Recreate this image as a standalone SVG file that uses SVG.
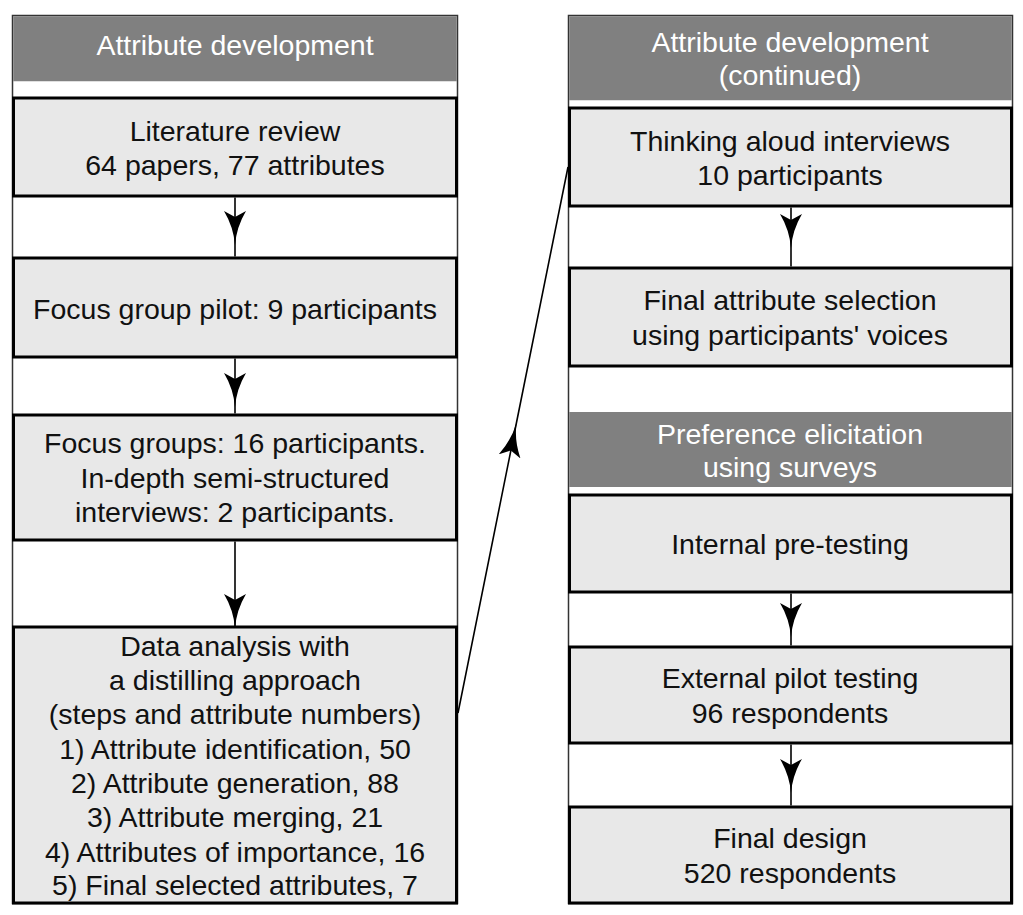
<svg xmlns="http://www.w3.org/2000/svg" width="1023" height="915" viewBox="0 0 1023 915">
<style>
.container{fill:#ffffff;stroke:#333333;stroke-width:1.5}
.header{fill:#808080;stroke:none}
.box{fill:#e8e8e8;stroke:#000000;stroke-width:3}
.t{font-family:"Liberation Sans",Arial,sans-serif;font-size:28.5px;fill:#111111;text-anchor:middle}
.ht{font-family:"Liberation Sans",Arial,sans-serif;font-size:28.5px;fill:#ffffff;text-anchor:middle}
.conn{fill:none;stroke:#000000;stroke-width:1.6}
</style>
<defs>
<marker id="ah" viewBox="0 0 34 22" markerWidth="34" markerHeight="22" refX="34" refY="11" orient="auto" markerUnits="userSpaceOnUse">
<path d="M34,11 Q16,9.5 0,0 L6,11 L0,22 Q16,12.5 34,11 Z" fill="#000000"/>
</marker>
</defs>

<g id="left-column">
<rect class="container" x="12.5" y="15.5" width="445" height="888"/>
<rect class="header" x="13.25" y="16.25" width="443.5" height="65"/>
</g>
<g id="right-column">
<rect class="container" x="568.5" y="15.5" width="444" height="888"/>
<rect class="header" x="569.25" y="16.25" width="442.5" height="84"/>
</g>

<g id="header-left">
<text class="ht" x="235" y="55">Attribute development</text>
</g>
<g id="header-right">
<text class="ht" x="790" y="52">Attribute development</text>
<text class="ht" x="790" y="85">(continued)</text>
</g>

<g id="literature-review">
<rect class="box" x="13.5" y="98" width="443" height="98"/>
<text class="t" x="235" y="141">Literature review</text>
<text class="t" x="235" y="175">64 papers, 77 attributes</text>
</g>
<g id="focus-group-pilot">
<rect class="box" x="13.5" y="258" width="443" height="99"/>
<text class="t" x="235" y="319">Focus group pilot: 9 participants</text>
</g>
<g id="focus-groups">
<rect class="box" x="13.5" y="415" width="443" height="125"/>
<text class="t" x="235" y="453">Focus groups: 16 participants.</text>
<text class="t" x="235" y="488">In-depth semi-structured</text>
<text class="t" x="235" y="522">interviews: 2 participants.</text>
</g>
<g id="data-analysis">
<rect class="box" x="13.5" y="627" width="443" height="276"/>
<text class="t" x="235" y="656">Data analysis with</text>
<text class="t" x="235" y="690">a distilling approach</text>
<text class="t" x="235" y="724">(steps and attribute numbers)</text>
<text class="t" x="235" y="759">1) Attribute identification, 50</text>
<text class="t" x="235" y="793">2) Attribute generation, 88</text>
<text class="t" x="235" y="827">3) Attribute merging, 21</text>
<text class="t" x="235" y="862">4) Attributes of importance, 16</text>
<text class="t" x="235" y="895">5) Final selected attributes, 7</text>
</g>

<g id="thinking-aloud">
<rect class="box" x="569.5" y="108" width="442" height="98"/>
<text class="t" x="790" y="151">Thinking aloud interviews</text>
<text class="t" x="790" y="185">10 participants</text>
</g>
<g id="final-attribute-selection">
<rect class="box" x="569.5" y="268" width="442" height="98"/>
<text class="t" x="790" y="310">Final attribute selection</text>
<text class="t" x="790" y="345">using participants' voices</text>
</g>
<g id="preference-header">
<rect class="header" x="569.25" y="412" width="442.5" height="75"/>
<text class="ht" x="790" y="444">Preference elicitation</text>
<text class="ht" x="790" y="477">using surveys</text>
</g>
<g id="internal-pretesting">
<rect class="box" x="569.5" y="495" width="442" height="97"/>
<text class="t" x="790" y="554">Internal pre-testing</text>
</g>
<g id="external-pilot">
<rect class="box" x="569.5" y="647" width="442" height="96"/>
<text class="t" x="790" y="688">External pilot testing</text>
<text class="t" x="790" y="723">96 respondents</text>
</g>
<g id="final-design">
<rect class="box" x="569.5" y="807" width="442" height="96"/>
<text class="t" x="790" y="848">Final design</text>
<text class="t" x="790" y="883">520 respondents</text>
</g>

<g id="connectors">
<path class="conn" d="M235,197.5 L235,245 L235,256.5" marker-mid="url(#ah)"/>
<path class="conn" d="M235,358.5 L235,407 L235,413.5" marker-mid="url(#ah)"/>
<path class="conn" d="M235,541.5 L235,628" marker-end="url(#ah)"/>
<path class="conn" d="M791,207.5 L791,248 L791,266.5" marker-mid="url(#ah)"/>
<path class="conn" d="M791,593.5 L791,637 L791,645.5" marker-mid="url(#ah)"/>
<path class="conn" d="M791,744.5 L791,793 L791,805.5" marker-mid="url(#ah)"/>
<path class="conn" d="M458,713 L516.4,423 L568,167" marker-mid="url(#ah)"/>
</g>
</svg>
